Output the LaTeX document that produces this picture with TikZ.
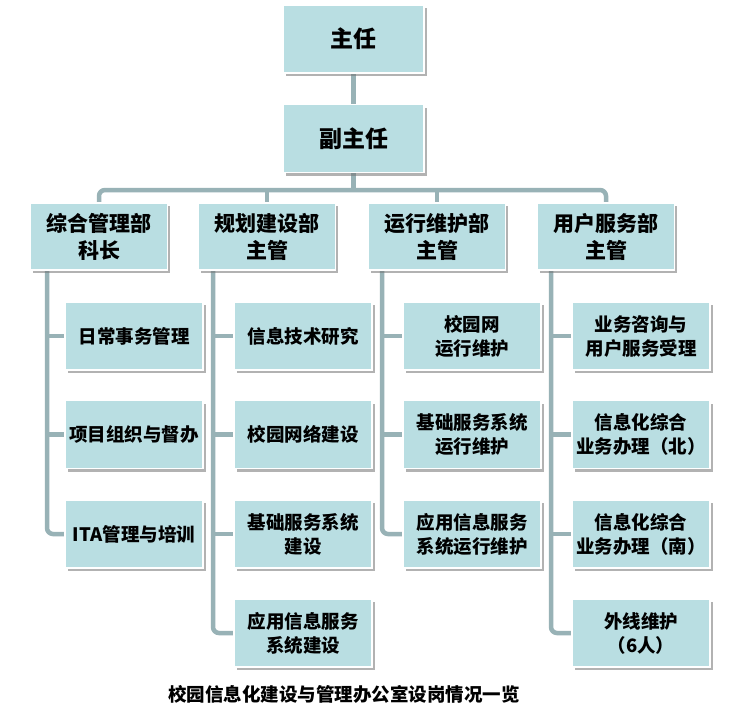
\documentclass[tikz,border=0pt]{standalone}
\usepackage{fontspec}
\setmainfont{Noto Sans CJK SC}
\usetikzlibrary{shadows,backgrounds}
\definecolor{boxfill}{RGB}{185,222,226}
\definecolor{conncol}{RGB}{152,178,182}
\begin{document}
\begin{tikzpicture}[x=1pt,y=-1pt,
  box/.style={fill=boxfill, draw=white, line width=1.2pt, align=center, inner sep=0pt,
    drop shadow={shadow xshift=2.5pt,shadow yshift=-3pt,fill=black!55,opacity=0.55},
    text=black},
  topbox/.style={box, minimum width=141pt, minimum height=68pt, font=\fontsize{23}{27}\selectfont\bfseries},
  deptbox/.style={box, minimum width=137pt, minimum height=67pt, font=\fontsize{21}{27}\selectfont\bfseries},
  childbox/.style={box, minimum width=138pt, minimum height=68pt, font=\fontsize{18.5}{24}\selectfont\bfseries},
  conn/.style={draw=conncol, line width=4.5pt},
  caption/.style={font=\fontsize{18.5}{21}\selectfont\bfseries, text=black}]
\useasboundingbox (0,0) rectangle (746,720);

\node[topbox] (zr) at (353.5,39) {主任};
\node[topbox] (fzr) at (353.5,138.5) {副主任};

\node[deptbox] (d1) at (99,236.5) {综合管理部\\科长};
\node[deptbox] (d2) at (267,236.5) {规划建设部\\主管};
\node[deptbox] (d3) at (437,236.5) {运行维护部\\主管};
\node[deptbox] (d4) at (606,236.5) {用户服务部\\主管};

\node[childbox] (c11) at (134,336) {日常事务管理};
\node[childbox] (c12) at (134,434.5) {项目组织与督办};
\node[childbox] (c13) at (134,534) {ITA管理与培训};

\node[childbox] (c21) at (303,336) {信息技术研究};
\node[childbox] (c22) at (303,434.5) {校园网络建设};
\node[childbox] (c23) at (303,534) {基础服务系统\\建设};
\node[childbox] (c24) at (303,633) {应用信息服务\\系统建设};

\node[childbox] (c31) at (472,336) {校园网\\运行维护};
\node[childbox] (c32) at (472,434.5) {基础服务系统\\运行维护};
\node[childbox] (c33) at (472,534) {应用信息服务\\系统运行维护};

\node[childbox] (c41) at (641,336) {业务咨询与\\用户服务受理};
\node[childbox] (c42) at (641,434.5) {信息化综合\\业务办理（北）};
\node[childbox] (c43) at (641,534) {信息化综合\\业务办理（南）};
\node[childbox] (c44) at (641,633) {外线维护\\（6人）};

\node[caption] (cap) at (344,694) {校园信息化建设与管理办公室设岗情况一览};

\coordinate (bus) at (353.5,190);
\coordinate (t1) at (47,270);
\coordinate (t2) at (213,270);
\coordinate (t3) at (382,270);
\coordinate (t4) at (551,270);

\begin{scope}[on background layer]
  \fill[white] (0,0) rectangle (746,720);
  \draw[conn] (zr.south) -- (fzr.north);
  \draw[conn] (fzr.south) -- (bus);
  \draw[conn, rounded corners=6pt] (d1.north) |- (bus) -| (d4.north);
  \draw[conn] (d2.north) -- (d2.north |- bus);
  \draw[conn] (d3.north) -- (d3.north |- bus);
  % column 1
  \draw[conn, rounded corners=6pt] (t1) |- (c13.west);
  \draw[conn] (c11.west -| t1) -- (c11.west);
  \draw[conn] (c12.west -| t1) -- (c12.west);
  % column 2
  \draw[conn, rounded corners=6pt] (t2) |- (c24.west);
  \draw[conn] (c21.west -| t2) -- (c21.west);
  \draw[conn] (c22.west -| t2) -- (c22.west);
  \draw[conn] (c23.west -| t2) -- (c23.west);
  % column 3
  \draw[conn, rounded corners=6pt] (t3) |- (c33.west);
  \draw[conn] (c31.west -| t3) -- (c31.west);
  \draw[conn] (c32.west -| t3) -- (c32.west);
  % column 4
  \draw[conn, rounded corners=6pt] (t4) |- (c44.west);
  \draw[conn] (c41.west -| t4) -- (c41.west);
  \draw[conn] (c42.west -| t4) -- (c42.west);
  \draw[conn] (c43.west -| t4) -- (c43.west);
\end{scope}
\end{tikzpicture}
\end{document}
